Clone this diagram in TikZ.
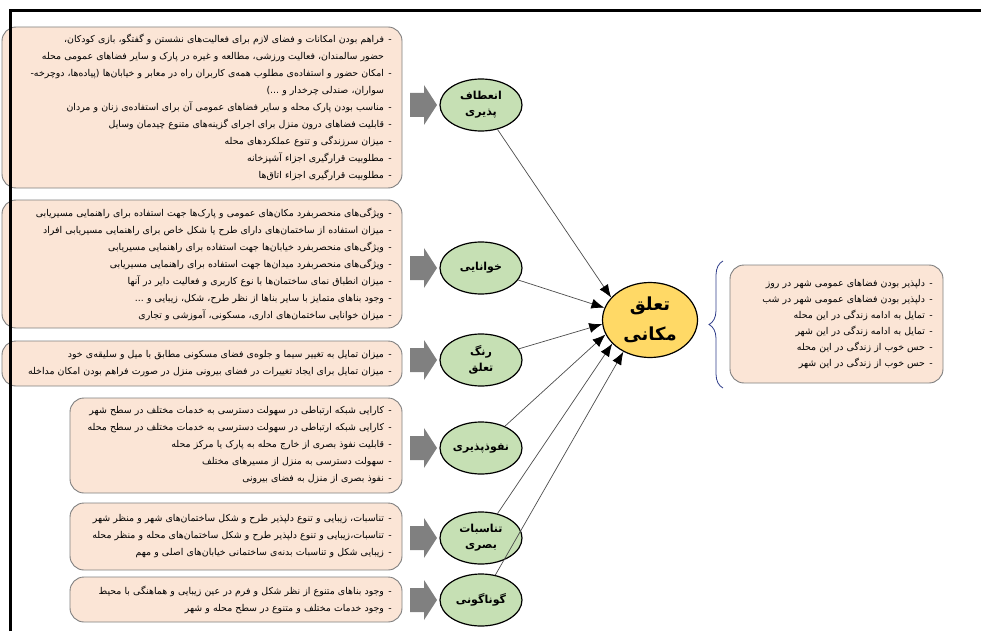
\documentclass[tikz,border=0pt]{standalone}
\usepackage{fontspec}
\usepackage{tikz}
\usetikzlibrary{arrows.meta,shapes.geometric,decorations.pathreplacing}
\newfontfamily\fa[Script=Arabic]{DejaVu Sans}
\TeXXeTstate=1
\definecolor{boxfill}{HTML}{FBE5D6}
\definecolor{boxline}{HTML}{7F7F7F}
\definecolor{greenfill}{HTML}{C6E0B4}
\definecolor{goldfill}{HTML}{FFD966}
\definecolor{bracecol}{HTML}{2F3D8A}
\definecolor{arrowgray}{HTML}{808080}
% one line with a dash, one line going on
\newcommand{\itm}[1]{\beginR\makebox[12pt]{-}#1\endR}
\newcommand{\cnt}[1]{\beginR\makebox[12pt]{}#1\endR}
\tikzset{
	box/.style={draw=boxline, fill=boxfill, rounded corners=14pt, line width=0.9pt, align=right, inner xsep=6pt, inner ysep=0pt, font=\fa\fontsize{9.4}{17}\selectfont},
	factor/.style={ellipse, draw, line width=1.2pt, fill=greenfill, minimum width=82pt, minimum height=52pt, inner sep=0pt, align=center, font=\fa\bfseries\fontsize{11}{16}\selectfont},
	link/.style={draw=black!70, line width=0.7pt, -{Latex[length=13pt,width=10pt,color=black]}}
}
\begin{document}
\begin{tikzpicture}[x=1pt,y=-1pt]
					\useasboundingbox (0,0) rectangle (981,631);
					% Boxes on the left
					\node[box, minimum width=400pt, minimum height=161pt, text width=388pt] (b1) at (202,107.5) {
						\itm{فراهم بودن امکانات و فضای لازم برای فعالیت‌های نشستن و گفتگو، بازی کودکان،}\\
						\cnt{حضور سالمندان، فعالیت ورزشی، مطالعه و غیره در پارک و سایر فضاهای عمومی محله}\\
						\itm{امکان حضور و استفاده‌ی مطلوب همه‌ی کاربران راه در معابر و خیابان‌ها (پیاده‌ها، دوچرخه-}\\
						\cnt{سواران، صندلی چرخدار و ...)}\\
						\itm{مناسب بودن پارک محله و سایر فضاهای عمومی آن برای استفاده‌ی زنان و مردان}\\
						\itm{قابلیت فضاهای درون منزل برای اجرای گزینه‌های متنوع چیدمان وسایل}\\
						\itm{میزان سرزندگی و تنوع عملکردهای محله}\\
						\itm{مطلوبیت قرارگیری اجزاء آشپزخانه}\\
						\itm{مطلوبیت قرارگیری اجزاء اتاق‌ها}};
					\node[box, minimum width=400pt, minimum height=128pt, text width=388pt] (b2) at (202,264) {
						\itm{ویژگی‌های منحصربفرد مکان‌های عمومی و پارک‌ها جهت استفاده برای راهنمایی مسیریابی}\\
						\itm{میزان استفاده از ساختمان‌های دارای طرح یا شکل خاص برای راهنمایی مسیریابی افراد}\\
						\itm{ویژگی‌های منحصربفرد خیابان‌ها جهت استفاده برای راهنمایی مسیریابی}\\
						\itm{ویژگی‌های منحصربفرد میدان‌ها جهت استفاده برای راهنمایی مسیریابی}\\
						\itm{میزان انطباق نمای ساختمان‌ها با نوع کاربری و فعالیت دایر در آنها}\\
						\itm{وجود بناهای متمایز با سایر بناها از نظر طرح، شکل، زیبایی و ...}\\
						\itm{میزان خوانایی ساختمان‌های اداری، مسکونی، آموزشی و تجاری}};
					\node[box, minimum width=400pt, minimum height=45pt, text width=388pt] (b3) at (202,363.5) {
						\itm{میزان تمایل به تغییر سیما و جلوه‌ی فضای مسکونی مطابق با میل و سلیقه‌ی خود}\\
						\itm{میزان تمایل برای ایجاد تغییرات در فضای بیرونی منزل در صورت فراهم بودن امکان مداخله}};
					\node[box, minimum width=332pt, minimum height=95pt, text width=320pt] (b4) at (236,445.5) {
						\itm{کارایی شبکه ارتباطی در سهولت دسترسی به خدمات مختلف در سطح شهر}\\
						\itm{کارایی شبکه ارتباطی در سهولت دسترسی به خدمات مختلف در سطح محله}\\
						\itm{قابلیت نفوذ بصری از خارج محله به پارک یا مرکز محله}\\
						\itm{سهولت دسترسی به منزل از مسیرهای مختلف}\\
						\itm{نفوذ بصری از منزل به فضای بیرونی}};
					\node[box, minimum width=332pt, minimum height=67pt, text width=320pt] (b5) at (236,536.5) {
						\itm{تناسبات، زیبایی و تنوع دلپذیر طرح و شکل ساختمان‌های شهر و منظر شهر}\\
						\itm{تناسبات،زیبایی و تنوع دلپذیر طرح و شکل ساختمان‌های محله و منظر محله}\\
						\itm{زیبایی شکل و تناسبات بدنه‌ی ساختمانی خیابان‌های اصلی و مهم}};
					\node[box, minimum width=332pt, minimum height=45pt, text width=320pt] (b6) at (236,599.5) {
						\itm{وجود بناهای متنوع از نظر شکل و فرم در عین زیبایی و هماهنگی با محیط}\\
						\itm{وجود خدمات مختلف و متنوع در سطح محله و شهر}};
					% Box on the right
					\node[box, minimum width=213pt, minimum height=118pt, text width=201pt, font=\fa\fontsize{9.4}{16}\selectfont] (r) at (836.5,324) {
						\itm{دلپذیر بودن فضاهای عمومی شهر در روز}\\
						\itm{دلپذیر بودن فضاهای عمومی شهر در شب}\\
						\itm{تمایل به ادامه زندگی در این محله}\\
						\itm{تمایل به ادامه زندگی در این شهر}\\
						\itm{حس خوب از زندگی در این محله}\\
						\itm{حس خوب از زندگی در این شهر}};
					\draw[bracecol, line width=0.8pt, decorate, decoration={brace, amplitude=14pt, aspect=0.5}] (723,388) -- (723,261);
					% Grey arrows
					\foreach \y in {105,268,360,448,538,600}
						\fill[arrowgray] (410,\y-12) -- (424,\y-12) -- (424,\y-20) -- (437,\y) -- (424,\y+20) -- (424,\y+12) -- (410,\y+12) -- cycle;
					% Ellipses
					\node[factor] (e1) at (481,105) {انعطاف\\پذیری};
					\node[factor] (e2) at (481,268) {خوانایی};
					\node[factor] (e3) at (481,360) {رنگ\\تعلق};
					\node[factor] (e4) at (481,448) {نفوذپذیری};
					\node[factor] (e5) at (481,538) {تناسبات\\بصری};
					\node[factor] (e6) at (481,600) {گوناگونی};
					\node[factor, fill=goldfill, minimum width=95pt, minimum height=75pt, font=\fa\bfseries\fontsize{18}{30}\selectfont] (c) at (650,320) {تعلق\\مکانی};
					% Links
					\draw[link] (e1) -- (c.150);
					\draw[link] (e2) -- (c.165);
					\draw[link] (e3) -- (c.185);
					\draw[link] (e4) -- (c.198);
					\draw[link] (e5) -- (c.212);
					\draw[link] (e6) -- (c.230);
					% Frame
					\draw[line width=3.5pt] (10.5,631) -- (10.5,10.5) -- (981,10.5);
				\end{tikzpicture}
\end{document}
